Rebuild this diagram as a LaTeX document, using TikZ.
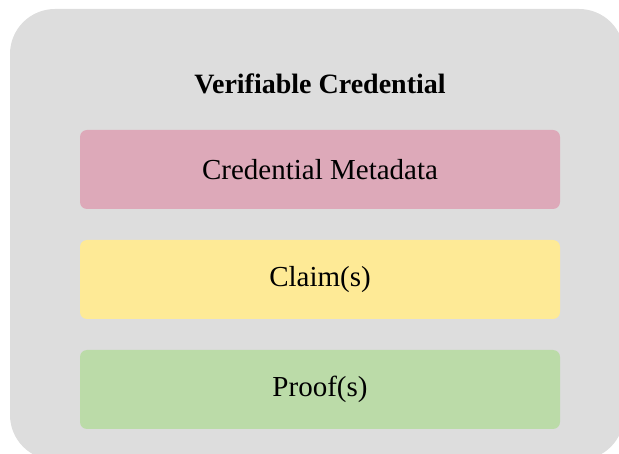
\documentclass[tikz,border=0pt]{standalone}
\usepackage{fontspec}
\setmainfont{Liberation Serif}
\definecolor{outerbg}{HTML}{DDDDDD}
\definecolor{metapink}{HTML}{DDA9B9}
\definecolor{claimyellow}{HTML}{FEEA96}
\definecolor{proofgreen}{HTML}{BBDBA8}
\begin{document}
\begin{tikzpicture}[x=1pt,y=1pt,
  layer/.style={rounded corners=7pt, minimum width=480pt, minimum height=79pt, inner sep=0pt, font=\fontsize{29}{34}\selectfont}]
\useasboundingbox (0,0) rectangle (619,-454);
\begin{scope}
\clip (0,0) rectangle (619,-454);
\fill[outerbg, rounded corners=45pt] (10,-9) rectangle (624,-460);
\end{scope}
\node[font=\fontsize{28}{33}\selectfont\bfseries] (title) at (320,-84) {Verifiable Credential};
\node[layer, fill=metapink] (meta) at (320,-169.5) {Credential Metadata};
\node[layer, fill=claimyellow] (claim) at (320,-279.5) {Claim(s)};
\node[layer, fill=proofgreen] (proof) at (320,-389.5) {Proof(s)};
\end{tikzpicture}
\end{document}
